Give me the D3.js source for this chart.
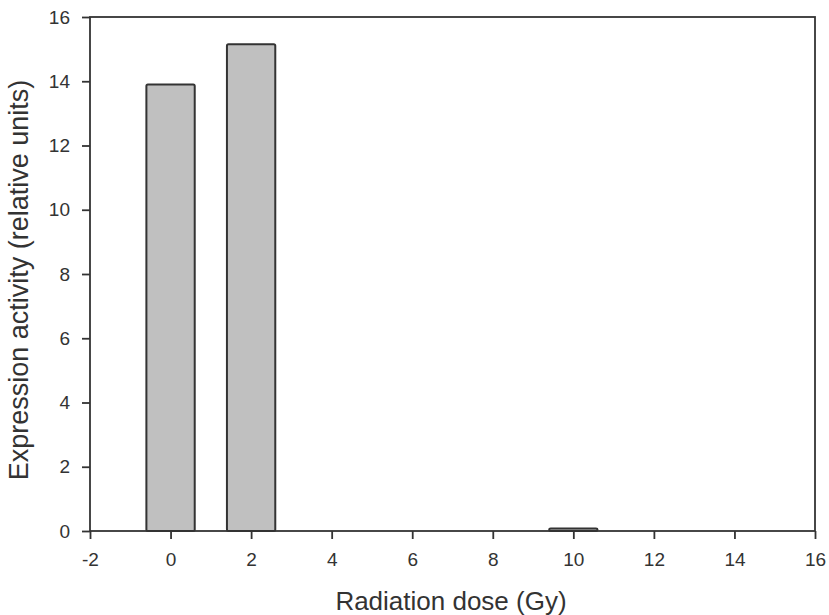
<!DOCTYPE html>
<html><head><meta charset="utf-8">
<script src="https://cdn.jsdelivr.net/npm/d3@7"></script>
<style>body{margin:0;background:#fff}text{font-family:"Liberation Sans",Arial,sans-serif;fill:#333}</style>
</head><body><svg id="c" width="829" height="615"></svg>
<script>
const doses = [0, 2, 10];
const activity = [13.9, 15.15, 0.08];
const xTicks = [-2, 0, 2, 4, 6, 8, 10, 12, 14, 16];
const yTicks = [0, 2, 4, 6, 8, 10, 12, 14, 16];
const barWidthUnits = 1.2;

const svg = d3.select("#c");
const L = 90, R = 815, T = 17, B = 531;
const x = d3.scaleLinear().domain([-2, 16]).range([L, R]);
const y = d3.scaleLinear().domain([0, 16]).range([B, T]);
const ink = "#333";

svg.selectAll("rect.bar").data(doses).enter().append("rect").attr("class","bar")
  .attr("x", d => x(d - barWidthUnits/2))
  .attr("width", d => x(d + barWidthUnits/2) - x(d - barWidthUnits/2))
  .attr("y", (d,i) => y(activity[i]))
  .attr("height", (d,i) => y(0) - y(activity[i]))
  .attr("rx", 1.5)
  .attr("fill", "#c0c0c0").attr("stroke", ink).attr("stroke-width", 2);

// frame
svg.append("rect").attr("x", L).attr("y", T).attr("width", R-L).attr("height", B-T)
  .attr("fill","none").attr("stroke", ink).attr("stroke-width", 1.8);

const fmt = d => String(d);
const xa = svg.append("g").attr("transform", `translate(0,${B})`)
  .call(d3.axisBottom(x).tickValues(xTicks).tickSize(8).tickPadding(14).tickFormat(fmt));
const ya = svg.append("g").attr("transform", `translate(${L},0)`)
  .call(d3.axisLeft(y).tickValues(yTicks).tickSize(8).tickPadding(12).tickFormat(fmt));
[xa, ya].forEach(a => {
  a.select(".domain").remove();
  a.selectAll("line").attr("stroke", ink).attr("stroke-width", 1.8);
  a.selectAll("text").attr("font-size", 19).style("fill", ink).attr("font-family", "'Liberation Sans', Arial, sans-serif");
});

svg.append("text").attr("x", 451).attr("y", 610).attr("text-anchor","middle")
  .attr("font-size", 26).text("Radiation dose (Gy)");
svg.append("text").attr("transform", `translate(28,280) rotate(-90)`).attr("text-anchor","middle")
  .attr("font-size", 27).text("Expression activity (relative units)");
</script></body></html>
